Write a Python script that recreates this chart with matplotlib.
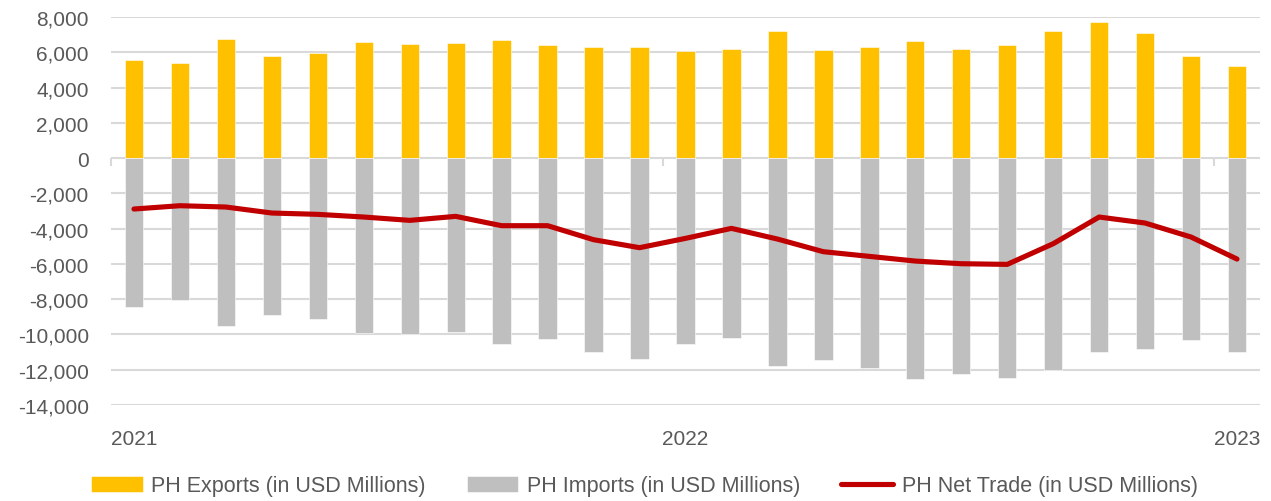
import numpy as np
import matplotlib
matplotlib.use("Agg")
import matplotlib.pyplot as plt

plt.rcParams['font.family'] = ['Liberation Sans', 'DejaVu Sans']

# monthly, Jan 2021 .. Jan 2023
months = np.arange(25)
year_labels = ["2021", "2022", "2023"]
year_pos = [0, 12, 24]
exports = [5555, 5365, 6768, 5782, 5934, 6578, 6464, 6540, 6692, 6427, 6275, 6275,
           6047, 6199, 7185, 6123, 6313, 6616, 6199, 6427, 7185, 7716, 7109, 5782, 5213]
imports = [-8427, -8049, -9524, -8881, -9108, -9920, -9996, -9845, -10526, -10261, -10979, -11395,
           -10563, -10185, -11773, -11471, -11887, -12530, -12227, -12454, -12038, -11017, -10828, -10299, -10979]
net_trade = [-2888, -2700, -2775, -3115, -3190, -3342, -3531, -3304, -3833, -3833, -4627, -5080,
             -4552, -3985, -4590, -5308, -5573, -5838, -5989, -6027, -4855, -3342, -3682, -4476, -5725]

ymin, ymax = -14000, 8000
grid_c = "#D9D9D9"
text_c = "#595959"

fig = plt.figure(figsize=(12.71, 5.02), dpi=100)
ax = fig.add_axes([111/1271, 1-406/502, (1260-111)/1271, (406-18)/502])

b1 = ax.bar(months, exports, width=0.4, color="#FFC000", edgecolor="white", linewidth=0.4,
            label="PH Exports (in USD Millions)", zorder=2)
b2 = ax.bar(months, imports, width=0.4, color="#BFBFBF", edgecolor="white", linewidth=0.4,
            label="PH Imports (in USD Millions)", zorder=2)
l1, = ax.plot(months, net_trade, color="#C00000", lw=3.7, solid_capstyle="round",
              solid_joinstyle="round", label="PH Net Trade (in USD Millions)", zorder=3)

ax.set_xlim(-0.5, 24.5)
ax.set_ylim(ymin, ymax)
ax.set_yticks(np.arange(ymin, ymax + 1, 2000))
ax.set_yticklabels(["{:,}".format(v) for v in range(ymin, ymax + 1, 2000)])
ax.yaxis.grid(True, color=grid_c, lw=1.5, zorder=0)
ax.set_axisbelow(True)
for s in ax.spines.values():
    s.set_visible(False)
ax.tick_params(axis="y", length=0, pad=16, labelsize=15, labelcolor=text_c)

ax.set_xticks(year_pos)
ax.set_xticklabels(year_labels)
ax.tick_params(axis="x", length=0, pad=17, labelsize=15, labelcolor=text_c)

# category axis line with tick marks sits at zero
zero_frac = (0 - ymin) / (ymax - ymin)
sec = ax.secondary_xaxis(zero_frac)
sec.set_xticks([-0.5, 11.5, 23.5])
sec.set_xticklabels([])
sec.tick_params(direction="in", length=6, width=1.5, color=grid_c)
sec.spines["bottom"].set_color(grid_c)
sec.spines["bottom"].set_linewidth(1.5)
for s in ["top", "left", "right"]:
    if s in sec.spines:
        sec.spines[s].set_visible(False)

fig.legend(handles=[b1, b2, l1], loc="center", bbox_to_anchor=(0.507, 1 - 487/502), ncol=3,
           frameon=False, fontsize=15.5, labelcolor=text_c, handlelength=2.4, handleheight=0.75,
           handletextpad=0.4, columnspacing=1.9)

fig.savefig("out.png", dpi=100)
